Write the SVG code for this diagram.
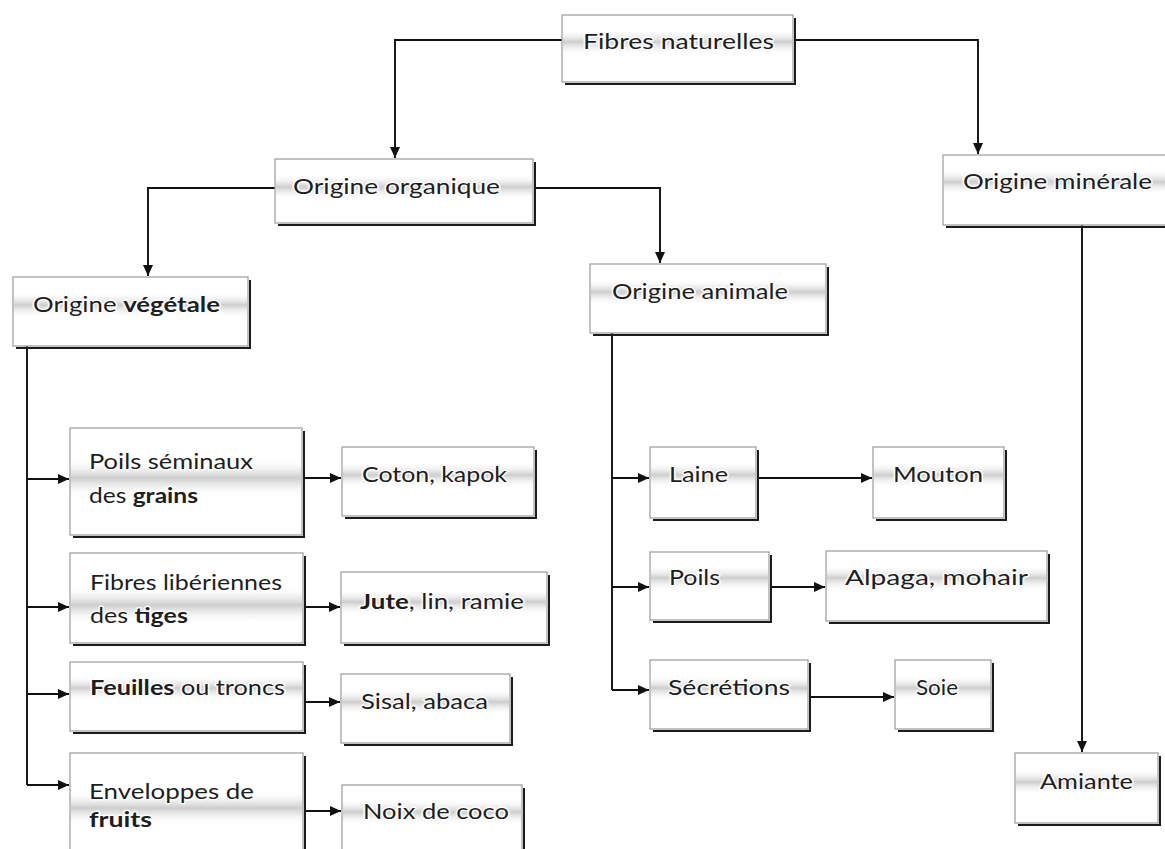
<svg xmlns="http://www.w3.org/2000/svg" width="1165" height="849" viewBox="0 0 1165 849">
<style>
.box{fill:#fff;stroke:#9a9a9a;stroke-width:1.2}
.sh{fill:none;stroke:#1c1c1c;stroke-width:2}
.band{fill:url(#band)}
.t{font-family:Lato,"Open Sans","Liberation Sans",sans-serif;font-size:21px;fill:#1e1e1e;stroke:#fff;stroke-width:3;stroke-opacity:.85;paint-order:stroke;stroke-linejoin:round}
.b{font-weight:bold}
.c{fill:none;stroke:#111;stroke-width:1.9}
.ca{fill:none;stroke:#111;stroke-width:1.9;marker-end:url(#arr)}
</style>
<defs>
<linearGradient id="band" x1="0" y1="0" x2="0" y2="1">
<stop offset="0" stop-color="#fff" stop-opacity="0"/>
<stop offset="0.5" stop-color="#cdcdcd"/>
<stop offset="1" stop-color="#fff" stop-opacity="0"/>
</linearGradient>
<marker id="arr" markerUnits="userSpaceOnUse" markerWidth="11" markerHeight="10" refX="11" refY="5" orient="auto">
<path d="M0,0 L11,5 L0,10 z" fill="#111"/>
</marker>
</defs>
<rect width="1165" height="849" fill="#fff"/>

<g id="connectors">
<path class="ca" d="M562,40 H395 V158"/>
<path class="ca" d="M795,40 H978 V154"/>
<path class="ca" d="M275,188 H148 V276"/>
<path class="ca" d="M535,188 H660 V263"/>
<path class="c" d="M27,346 V785"/>
<path class="ca" d="M27,479 H69"/>
<path class="ca" d="M27,607 H69"/>
<path class="ca" d="M27,694 H69"/>
<path class="ca" d="M27,785 H69"/>
<path class="ca" d="M304,478 H341"/>
<path class="ca" d="M305,607 H340"/>
<path class="ca" d="M305,702 H340"/>
<path class="ca" d="M305,811 H341"/>
<path class="c" d="M612,333 V690"/>
<path class="ca" d="M612,478 H649"/>
<path class="ca" d="M612,587 H649"/>
<path class="ca" d="M612,690 H649"/>
<path class="ca" d="M758,478 H872"/>
<path class="ca" d="M771,587 H825"/>
<path class="ca" d="M810,697 H894"/>
<path class="ca" d="M1082,225 V752"/>
</g>

<g id="n-fibres-naturelles">
<rect class="box" x="562" y="15" width="231" height="67"/>
<path class="sh" d="M795,18 V84 H565"/>
<rect class="band" x="563" y="29" width="229" height="26"/>
<text class="t" x="583" y="49" textLength="191" lengthAdjust="spacingAndGlyphs">Fibres naturelles</text>
</g>

<g id="n-origine-organique">
<rect class="box" x="275" y="159" width="258" height="64"/>
<path class="sh" d="M535,162 V225 H278"/>
<rect class="band" x="276" y="174" width="256" height="26"/>
<text class="t" x="293" y="194" textLength="207" lengthAdjust="spacingAndGlyphs">Origine organique</text>
</g>

<g id="n-origine-vegetale">
<rect class="box" x="13" y="277" width="235" height="69"/>
<path class="sh" d="M250,280 V348 H16"/>
<rect class="band" x="14" y="292" width="233" height="26"/>
<text class="t" x="33" y="312" textLength="187" lengthAdjust="spacingAndGlyphs">Origine <tspan class="b">végétale</tspan></text>
</g>

<g id="n-origine-animale">
<rect class="box" x="590" y="264" width="236" height="69"/>
<path class="sh" d="M828,267 V335 H593"/>
<rect class="band" x="591" y="279" width="234" height="26"/>
<text class="t" x="612" y="299" textLength="176" lengthAdjust="spacingAndGlyphs">Origine animale</text>
</g>

<g id="n-origine-minerale">
<rect class="box" x="943" y="155" width="226" height="70"/>
<path class="sh" d="M1171,158 V227 H946"/>
<rect class="band" x="944" y="169" width="224" height="26"/>
<text class="t" x="963" y="189" textLength="189" lengthAdjust="spacingAndGlyphs">Origine minérale</text>
</g>

<g id="n-poils-seminaux">
<rect class="box" x="70" y="428" width="232" height="107"/>
<path class="sh" d="M304,431 V537 H73"/>
<rect class="band" x="71" y="458" width="230" height="40"/>
<text class="t" x="89" y="469" textLength="164" lengthAdjust="spacingAndGlyphs">Poils séminaux</text>
<text class="t" x="89" y="503" textLength="109" lengthAdjust="spacingAndGlyphs">des <tspan class="b">grains</tspan></text>
</g>

<g id="n-coton">
<rect class="box" x="342" y="447" width="192" height="69"/>
<path class="sh" d="M536,450 V518 H345"/>
<rect class="band" x="343" y="462" width="190" height="26"/>
<text class="t" x="362" y="482" textLength="145" lengthAdjust="spacingAndGlyphs">Coton, kapok</text>
</g>

<g id="n-fibres-liberiennes">
<rect class="box" x="70" y="553" width="233" height="90"/>
<path class="sh" d="M305,556 V645 H73"/>
<rect class="band" x="71" y="586" width="231" height="38"/>
<text class="t" x="90" y="590" textLength="192" lengthAdjust="spacingAndGlyphs">Fibres libériennes</text>
<text class="t" x="90" y="623" textLength="98" lengthAdjust="spacingAndGlyphs">des <tspan class="b">tiges</tspan></text>
</g>

<g id="n-jute">
<rect class="box" x="341" y="572" width="206" height="71"/>
<path class="sh" d="M549,575 V645 H344"/>
<rect class="band" x="342" y="589" width="204" height="26"/>
<text class="t" x="360" y="609" textLength="164" lengthAdjust="spacingAndGlyphs"><tspan class="b">Jute</tspan>, lin, ramie</text>
</g>

<g id="n-feuilles">
<rect class="box" x="70" y="662" width="233" height="69"/>
<path class="sh" d="M305,665 V733 H73"/>
<rect class="band" x="71" y="675" width="231" height="26"/>
<text class="t" x="90" y="695" textLength="195" lengthAdjust="spacingAndGlyphs"><tspan class="b">Feuilles</tspan> ou troncs</text>
</g>

<g id="n-sisal">
<rect class="box" x="341" y="674" width="169" height="69"/>
<path class="sh" d="M512,677 V745 H344"/>
<rect class="band" x="342" y="689" width="167" height="26"/>
<text class="t" x="361" y="709" textLength="127" lengthAdjust="spacingAndGlyphs">Sisal, abaca</text>
</g>

<g id="n-enveloppes">
<rect class="box" x="70" y="753" width="233" height="110"/>
<path class="sh" d="M305,756 V865"/>
<rect class="band" x="71" y="790" width="231" height="36"/>
<text class="t" x="89" y="799" textLength="165" lengthAdjust="spacingAndGlyphs">Enveloppes de</text>
<text class="t" x="89" y="827" textLength="63" lengthAdjust="spacingAndGlyphs"><tspan class="b">fruits</tspan></text>
</g>

<g id="n-noix">
<rect class="box" x="342" y="785" width="180" height="80"/>
<path class="sh" d="M524,788 V865"/>
<rect class="band" x="343" y="799" width="178" height="26"/>
<text class="t" x="363" y="819" textLength="146" lengthAdjust="spacingAndGlyphs">Noix de coco</text>
</g>

<g id="n-laine">
<rect class="box" x="650" y="447" width="106" height="71"/>
<path class="sh" d="M758,450 V520 H653"/>
<rect class="band" x="651" y="462" width="104" height="26"/>
<text class="t" x="669" y="482" textLength="59" lengthAdjust="spacingAndGlyphs">Laine</text>
</g>

<g id="n-mouton">
<rect class="box" x="873" y="447" width="131" height="71"/>
<path class="sh" d="M1006,450 V520 H876"/>
<rect class="band" x="874" y="462" width="129" height="26"/>
<text class="t" x="893" y="482" textLength="90" lengthAdjust="spacingAndGlyphs">Mouton</text>
</g>

<g id="n-poils">
<rect class="box" x="650" y="552" width="119" height="68"/>
<path class="sh" d="M771,555 V622 H653"/>
<rect class="band" x="651" y="565" width="117" height="26"/>
<text class="t" x="669" y="585" textLength="51" lengthAdjust="spacingAndGlyphs">Poils</text>
</g>

<g id="n-alpaga">
<rect class="box" x="826" y="551" width="221" height="70"/>
<path class="sh" d="M1049,554 V623 H829"/>
<rect class="band" x="827" y="565" width="219" height="26"/>
<text class="t" x="845" y="585" textLength="183" lengthAdjust="spacingAndGlyphs">Alpaga, mohair</text>
</g>

<g id="n-secretions">
<rect class="box" x="650" y="660" width="158" height="69"/>
<path class="sh" d="M810,663 V731 H653"/>
<rect class="band" x="651" y="675" width="156" height="26"/>
<text class="t" x="668" y="695" textLength="122" lengthAdjust="spacingAndGlyphs">Sécrétions</text>
</g>

<g id="n-soie">
<rect class="box" x="895" y="660" width="96" height="69"/>
<path class="sh" d="M993,663 V731 H898"/>
<rect class="band" x="896" y="675" width="94" height="26"/>
<text class="t" x="916" y="695" textLength="42" lengthAdjust="spacingAndGlyphs">Soie</text>
</g>

<g id="n-amiante">
<rect class="box" x="1015" y="753" width="143" height="70"/>
<path class="sh" d="M1160,756 V825 H1018"/>
<rect class="band" x="1016" y="769" width="141" height="26"/>
<text class="t" x="1040" y="789" textLength="93" lengthAdjust="spacingAndGlyphs">Amiante</text>
</g>
</svg>
